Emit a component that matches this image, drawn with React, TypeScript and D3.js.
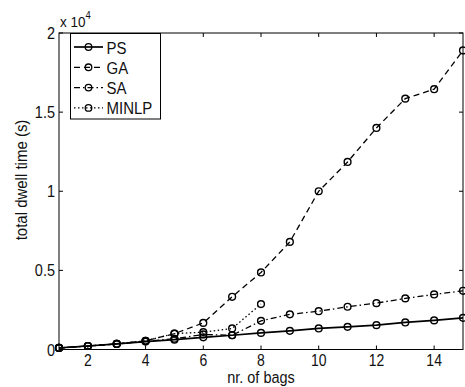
import React from "react";
import * as d3 from "d3";

const bags = [1, 2, 3, 4, 5, 6, 7, 8, 9, 10, 11, 12, 13, 14, 15];
const psValues = [0.01, 0.022, 0.035, 0.05, 0.062, 0.077, 0.09, 0.105, 0.118, 0.133, 0.143, 0.154, 0.171, 0.184, 0.2];
const gaValues = [0.01, 0.022, 0.035, 0.055, 0.1, 0.168, 0.333, 0.487, 0.68, 1.0, 1.185, 1.4, 1.585, 1.645, 1.89];
const saValues = [0.01, 0.022, 0.035, 0.052, 0.068, 0.095, 0.09, 0.181, 0.222, 0.242, 0.27, 0.293, 0.323, 0.348, 0.371];
const minlpBags = [1, 2, 3, 4, 5, 6, 7, 8];
const minlpValues = [0.01, 0.022, 0.035, 0.055, 0.1, 0.11, 0.133, 0.287];
const xTicks = [2, 4, 6, 8, 10, 12, 14];
const yTicks = [0, 0.5, 1, 1.5, 2];
const yTickLabels = ["0", "0.5", "1", "1.5", "2"];
const seriesNames = ["PS", "GA", "SA", "MINLP"];

const W = 465, H = 387;
const L = 59, R = 463, T = 33, B = 349.5;
const font = "Liberation Sans, Arial, Helvetica, sans-serif";
const SY = 1.12;

function Txt(props: { x: number; y: number; size: number; anchor?: string; children: React.ReactNode; rotate?: boolean }) {
  const { x, y, size, anchor, children, rotate } = props;
  const tr = rotate ? `translate(${x},${y}) rotate(-90) scale(1,${SY})` : `translate(${x},${y}) scale(1,${SY})`;
  return (
    <text transform={tr} fontSize={size} textAnchor={anchor || "start"} fill="#111">{children}</text>
  );
}

export default function App() {
  const x = d3.scaleLinear().domain([1, 15]).range([L, R]);
  const y = d3.scaleLinear().domain([0, 2]).range([B, T]);
  const line = d3.line<[number, number]>().x(d => x(d[0])).y(d => y(d[1]));

  const series = [
    { name: "PS", xs: bags, ys: psValues, dash: "", sw: 1.7 },
    { name: "GA", xs: bags, ys: gaValues, dash: "6,4", sw: 1.3 },
    { name: "SA", xs: bags, ys: saValues, dash: "6,3,1.5,3", sw: 1.3 },
    { name: "MINLP", xs: minlpBags, ys: minlpValues, dash: "1.5,2.5", sw: 1.3 },
  ];

  const tickLen = 4;

  return (
    <svg width={W} height={H} style={{ position: "absolute", left: 0, top: 0 }} fontFamily={font}>
      <rect x={0} y={0} width={W} height={H} fill="white" />
      {series.map(s => {
        const pts: [number, number][] = s.xs.map((v, i) => [v, s.ys[i]]);
        return (
          <g key={s.name}>
            <path d={line(pts) || ""} fill="none" stroke="black" strokeWidth={s.sw} strokeDasharray={s.dash} />
            {pts.map((p, i) => (
              <circle key={i} cx={x(p[0])} cy={y(p[1])} r={3.4} fill="none" stroke="black" strokeWidth={1.4} />
            ))}
          </g>
        );
      })}
      <rect x={L} y={T} width={R - L} height={B - T} fill="none" stroke="black" strokeWidth={1} />
      {xTicks.map(t => (
        <g key={"x" + t}>
          <line x1={x(t)} x2={x(t)} y1={B} y2={B - tickLen} stroke="black" />
          <line x1={x(t)} x2={x(t)} y1={T} y2={T + tickLen} stroke="black" />
          <Txt x={x(t)} y={B + 16.5} size={14} anchor="middle">{t}</Txt>
        </g>
      ))}
      {yTicks.map((t, i) => (
        <g key={"y" + t}>
          <line x1={L} x2={L + tickLen} y1={y(t)} y2={y(t)} stroke="black" />
          <line x1={R} x2={R - tickLen} y1={y(t)} y2={y(t)} stroke="black" />
          <Txt x={L - 4} y={y(t) + 6} size={14.5} anchor="end">{yTickLabels[i]}</Txt>
        </g>
      ))}
      <text transform={`translate(60,27) scale(1,${SY})`} fontSize={13.5} fill="#111">x 10<tspan dy={-7} fontSize={9.5}>4</tspan></text>
      <Txt x={261} y={382.5} size={14.5} anchor="middle">nr. of bags</Txt>
      <Txt x={27} y={180} size={15} anchor="middle" rotate>total dwell time (s)</Txt>
      <rect x={70.5} y={33.5} width={90} height={85.5} fill="white" stroke="black" strokeWidth={1} />
      {series.map((s, i) => {
        const ly = 47 + i * 20.3;
        return (
          <g key={"lg" + s.name}>
            <line x1={74} x2={103} y1={ly} y2={ly} stroke="black" strokeWidth={s.sw} strokeDasharray={s.dash} />
            <circle cx={88.5} cy={ly} r={3.3} fill="none" stroke="black" strokeWidth={1.3} />
            <Txt x={106.5} y={ly + 6.5} size={15}>{seriesNames[i]}</Txt>
          </g>
        );
      })}
    </svg>
  );
}
